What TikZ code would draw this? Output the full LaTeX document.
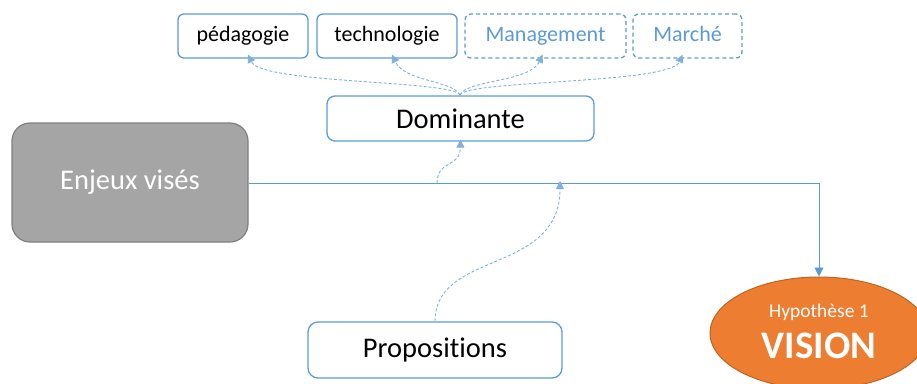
\documentclass[tikz,border=0pt]{standalone}
\usepackage{fontspec}
\setmainfont{Carlito}[Ligatures={NoCommon}]
\usetikzlibrary{arrows.meta,shapes.geometric}
\definecolor{bl}{HTML}{5B9BD5}
\definecolor{bld}{HTML}{7EB0E0}
\definecolor{gr}{HTML}{A5A5A5}
\definecolor{grd}{HTML}{7F7F7F}
\definecolor{org}{HTML}{ED7D31}
\definecolor{orgd}{HTML}{C0631F}
\begin{document}
\begin{tikzpicture}[x=1pt,y=-1pt,
  topbox/.style={draw=bl,line width=1.3pt,rounded corners=6pt,fill=white,inner sep=0pt,text height=15pt,text depth=4.5pt,minimum height=44pt,font=\fontsize{22}{24}\selectfont},
  dashbox/.style={topbox,dashed,dash pattern=on 4pt off 3pt,text=bl},
  bigbox/.style={draw=bl,line width=1.3pt,fill=white,inner sep=0pt,font=\fontsize{28.5}{31}\selectfont},
  darr/.style={draw=bld,line width=0.9pt,dash pattern=on 3pt off 2pt,-{Triangle[width=8pt,length=8pt]}},
  sarr/.style={draw=bl,line width=0.9pt,-{Triangle[width=9pt,length=9pt]}}
]
\useasboundingbox (0,0) rectangle (917,383);
% top boxes
\node[topbox,minimum width=130pt] (ped) at (243,36) {pédagogie};
\node[topbox,minimum width=140pt] (tech) at (387,36) {technologie};
\node[dashbox,minimum width=161pt] (man) at (545.5,36) {Management};
\node[dashbox,minimum width=109pt] (mar) at (687.5,36) {Marché};
% Dominante
\node[bigbox,rounded corners=8pt,minimum width=267pt,minimum height=45pt] (dom) at (460.5,118.5) {Dominante};
% Enjeux
\node[draw=grd,fill=gr,line width=1.2pt,rounded corners=18pt,minimum width=236pt,minimum height=119pt,inner sep=0pt,text=white,font=\fontsize{28.5}{31}\selectfont] (enj) at (130,182.5) {Enjeux visés};
% Propositions
\node[bigbox,rounded corners=10pt,minimum width=254pt,minimum height=56pt] (prop) at (435,350) {Propositions};
% VISION
\node[ellipse,draw=orgd,fill=org,line width=1pt,minimum width=218pt,minimum height=112pt,inner sep=0pt] (vis) at (819,333) {};
\node[text=white,font=\fontsize{19.5}{22}\selectfont,inner sep=0pt] (hyp) at (819,312) {Hypothèse 1};
\node[text=white,font=\fontsize{39}{42}\selectfont\bfseries,inner sep=0pt] (vtx) at (819,346) {VISION};
% solid connector
\coordinate (corner) at (819,183);
\coordinate (jd) at (437,183);
\coordinate (jp) at (560,183);
\draw[sarr] (enj.east |- corner) -- (corner) -- (vis.north);
% dashed to top boxes
\coordinate (dt) at (460,95);
\draw[darr] (dt) .. controls (452,80) and (262,84) .. ([xshift=5pt,yshift=4pt]ped.south);
\draw[darr] (dt) .. controls (452,80) and (405,82) .. ([xshift=5pt,yshift=4pt]tech.south);
\draw[darr] (dt) .. controls (466,80) and (530,82) .. ([xshift=-3pt,yshift=4pt]man.south);
\draw[darr] (dt) .. controls (466,80) and (670,84) .. ([xshift=-5pt,yshift=4pt]mar.south);
% dashed from line to Dominante
\draw[darr] (jd) .. controls (437,160) and (460,168) .. ([yshift=2pt]dom.south);
% dashed from Propositions to line
\draw[darr] (prop.north) .. controls (435,250) and (560,275) .. ([yshift=2pt]jp);
\end{tikzpicture}
\end{document}
